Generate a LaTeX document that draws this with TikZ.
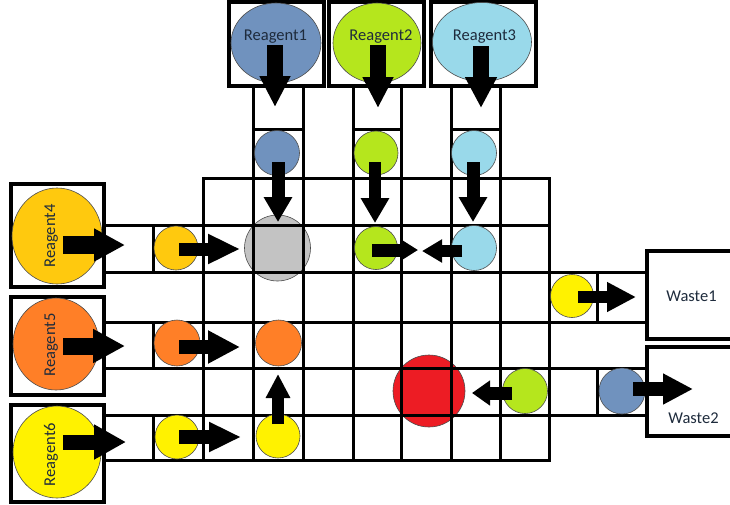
\documentclass[tikz,border=0pt]{standalone}
\usepackage{fontspec}
\setmainfont{Carlito}
\usetikzlibrary{arrows.meta,shapes.geometric}
\definecolor{cblue}{HTML}{7092BE}
\definecolor{cgreen}{HTML}{B5E61D}
\definecolor{ccyan}{HTML}{99D9EA}
\definecolor{cgold}{HTML}{FFC90E}
\definecolor{corange}{HTML}{FF7F27}
\definecolor{cyellow}{HTML}{FFF200}
\definecolor{cred}{HTML}{ED1C24}
\definecolor{cgray}{HTML}{C3C3C3}
\definecolor{ctext}{HTML}{1E2B3C}
\begin{document}
\begin{tikzpicture}[x=1pt,y=-1pt,
  gridline/.style={line width=3pt, line cap=rect},
  boxnode/.style={draw, line width=3.4pt, rectangle, inner sep=0pt, outer sep=0pt},
  blob/.style={circle, draw=black!70, line width=0.6pt, inner sep=0pt, outer sep=0pt, minimum size=#1pt},
  oval/.style={ellipse, draw=black!70, line width=0.6pt, inner sep=0pt, outer sep=0pt},
  blk/.style n args={3}{line width=#1pt, -{Triangle[width=#2pt,length=#3pt]}},
  lbl/.style={text=ctext, font=\fontsize{16.5}{18}\selectfont, anchor=base, inner sep=0pt}]
\fill[white] (0,0) rectangle (730,504);
\useasboundingbox (0,0) rectangle (730,504);
\clip (0,0) rectangle (730,504);

% mixing chambers under the grid
\node[blob=66, fill=cgray] (mix1) at (277.5,248) {};
\node[blob=72, fill=cred] (mix2) at (429,391) {};

% grid
\foreach \y/\a/\b in {129/253/303, 129/353/401, 129/451/500, 178/203/549, 225/104/549,
  272/104/647, 322/104/647, 368/104/647, 415/104/647, 460/104/549}
  \draw[gridline] (\a,\y) -- (\b,\y);
\foreach \x/\a/\b in {153/225/272, 153/322/368, 153/415/460, 203/178/460,
  253/86/460, 303/86/460, 353/86/460, 401/86/460, 451/86/460, 500/86/460,
  549/178/460, 597/272/322, 597/368/415}
  \draw[gridline] (\x,\a) -- (\x,\b);

% small droplets
\node[blob=45, fill=cblue] (b1) at (277,153) {};
\node[blob=44, fill=cgreen] (g1) at (376,153) {};
\node[blob=45, fill=ccyan] (c1) at (474,153) {};
\node[blob=44, fill=cgold] (o1) at (176,248) {};
\node[blob=43, fill=cgreen] (g2) at (376,248) {};
\node[blob=45, fill=ccyan] (c2) at (474,248) {};
\node[blob=46, fill=corange] (or1) at (177,343) {};
\node[blob=46, fill=corange] (or2) at (278.5,343) {};
\node[blob=44, fill=cyellow] (y1) at (177,437) {};
\node[blob=44, fill=cyellow] (y2) at (278,436) {};
\node[blob=43, fill=cyellow] (y3) at (572,296) {};
\node[blob=45, fill=cgreen] (g3) at (525,391) {};
\node[blob=46, fill=cblue] (b2) at (622,391) {};

% reservoir boxes
\node[boxnode, minimum width=95pt, minimum height=84pt] (B1) at (276.5,44) {};
\node[boxnode, minimum width=95pt, minimum height=84pt] (B2) at (376.5,44) {};
\node[boxnode, minimum width=105pt, minimum height=84pt] (B3) at (483.5,44) {};
\node[boxnode, minimum width=93pt, minimum height=103pt] (B4) at (57.5,235.5) {};
\node[boxnode, minimum width=93pt, minimum height=98pt] (B5) at (57.5,346) {};
\node[boxnode, minimum width=93pt, minimum height=97pt] (B6) at (57.5,453.5) {};
\node[boxnode, minimum width=96pt, minimum height=88pt] (W1) at (695,295) {};
\node[boxnode, minimum width=96pt, minimum height=89pt] (W2) at (695,391.5) {};

% reagent reservoirs
\node[oval, fill=cblue, minimum width=90pt, minimum height=80pt] (R1) at (276,43) {};
\node[oval, fill=cgreen, minimum width=88pt, minimum height=80pt] (R2) at (377,43) {};
\node[oval, fill=ccyan, minimum width=99pt, minimum height=79pt] (R3) at (482,42) {};
\node[oval, fill=cgold, minimum width=90pt, minimum height=96pt] (R4) at (57,236) {};
\node[oval, fill=corange, minimum width=86pt, minimum height=92pt] (R5) at (56,344) {};
\node[oval, fill=cyellow, minimum width=88pt, minimum height=92pt] (R6) at (57,452) {};

% arrow end points
\coordinate (a1s) at (275,45);   \coordinate (a1e) at (275,107);
\coordinate (a2s) at (378,45);   \coordinate (a2e) at (378,108);
\coordinate (a3s) at (481,46);   \coordinate (a3e) at (481,108);
\coordinate (a4s) at (278,162);  \coordinate (a4e) at (278,222);
\coordinate (a5s) at (375,162);  \coordinate (a5e) at (375,223);
\coordinate (a6s) at (473,162);  \coordinate (a6e) at (473,222);
\coordinate (a7s) at (63,245);   \coordinate (a7e) at (125,245);
\coordinate (a8s) at (179,249);  \coordinate (a8e) at (240,249);
\coordinate (a9s) at (372,250);  \coordinate (a9e) at (418,250);
\coordinate (a10s) at (462,251); \coordinate (a10e) at (422,251);
\coordinate (a11s) at (63,346);  \coordinate (a11e) at (125,346);
\coordinate (a12s) at (179,347); \coordinate (a12e) at (240,347);
\coordinate (a13s) at (63,442);  \coordinate (a13e) at (126,442);
\coordinate (a14s) at (179,437); \coordinate (a14e) at (241,437);
\coordinate (a15s) at (278,424); \coordinate (a15e) at (278,374);
\coordinate (a16s) at (578,297); \coordinate (a16e) at (636,297);
\coordinate (a17s) at (633,389); \coordinate (a17e) at (693,389);
\coordinate (a18s) at (512,393); \coordinate (a18e) at (472,393);

\draw[blk={16}{29}{31}] (a1s) -- (a1e);
\draw[blk={16}{29}{31}] (a2s) -- (a2e);
\draw[blk={16}{30}{31}] (a3s) -- (a3e);
\draw[blk={13}{27}{25}] (a4s) -- (a4e);
\draw[blk={12}{27}{25}] (a5s) -- (a5e);
\draw[blk={13}{27}{25}] (a6s) -- (a6e);
\draw[blk={18}{31}{31}] (a7s) -- (a7e);
\draw[blk={13}{28}{32}] (a8s) -- (a8e);
\draw[blk={13}{20}{17}] (a9s) -- (a9e);
\draw[blk={12}{22}{20}] (a10s) -- (a10e);
\draw[blk={17}{32}{32}] (a11s) -- (a11e);
\draw[blk={14}{31}{32}] (a12s) -- (a12e);
\draw[blk={15}{33}{32}] (a13s) -- (a13e);
\draw[blk={14}{28}{32}] (a14s) -- (a14e);
\draw[blk={12}{23}{24}] (a15s) -- (a15e);
\draw[blk={11.5}{28}{29}] (a16s) -- (a16e);
\draw[blk={14}{29}{30}] (a17s) -- (a17e);
\draw[blk={13}{24}{18}] (a18s) -- (a18e);

% labels
\node[lbl] (t1) at (275.5,40) {Reagent1};
\node[lbl] (t2) at (381,40) {Reagent2};
\node[lbl] (t3) at (484.5,40) {Reagent3};
\node[lbl, rotate=90] (t4) at (55,236) {Reagent4};
\node[lbl, rotate=90] (t5) at (55,345) {Reagent5};
\node[lbl, rotate=90] (t6) at (55,454.5) {Reagent6};
\node[lbl] (t7) at (691.5,301.5) {Waste1};
\node[lbl] (t8) at (693.5,423.5) {Waste2};
\end{tikzpicture}
\end{document}
